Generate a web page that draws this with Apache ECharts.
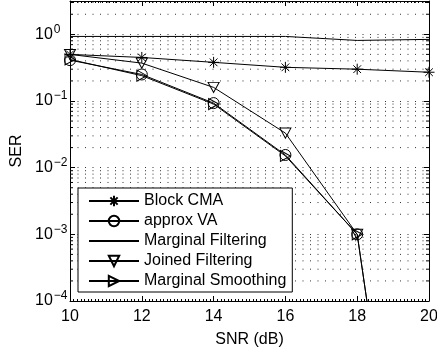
<!DOCTYPE html>
<html>
<head>
<meta charset="utf-8">
<script src="https://cdn.jsdelivr.net/npm/echarts@6/dist/echarts.min.js"></script>
<style>
  html, body { margin: 0; padding: 0; background: #fff; }
  #chart { width: 437px; height: 349px; }
</style>
</head>
<body>
<div id="chart"></div>
<script>
// SNR points (dB)
const snr = [10, 12, 14, 16, 18, 20];

// SER values
const blockCMA = [0.50, 0.45, 0.38, 0.32, 0.30, 0.27];
const approxVA = [0.41, 0.25, 0.093, 0.0155, 0.001, 4e-11];
const marginalFiltering = [0.93, 0.93, 0.93, 0.93, 0.81, 0.84];
const joinedFiltering = [0.50, 0.37, 0.16, 0.033, 0.001, null];
const marginalSmoothing = [0.42, 0.24, 0.09, 0.015, 0.001, 4e-11];

const names = ["Block CMA", "approx VA", "Marginal Filtering", "Joined Filtering", "Marginal Smoothing"];

// minor log gridlines (2..9 per decade)
const minorGrid = [];
for (let e = -4; e <= 0; e++) {
  for (let k = 2; k <= 9; k++) minorGrid.push(k * Math.pow(10, e));
}

const xMin = 10, xMax = 20;
const font = "Liberation Sans, Arial, Helvetica, sans-serif";

const starPath = "path://M5 0 L5 10 M0 5 L10 5 M1.5 1.5 L8.5 8.5 M1.5 8.5 L8.5 1.5";
const downTri = "path://M0 0 L10 0 L5 9 Z";
const rightTri = "path://M0 0 L9 5 L0 10 Z";

function pair(ys) {
  return snr.map((x, i) => [x, ys[i]]);
}

function lineSeries(name, ys, symbol, size) {
  return {
    name: name,
    type: "line",
    data: pair(ys),
    symbol: symbol,
    symbolSize: size,
    showSymbol: symbol !== "none",
    connectNulls: false,
    z: 5,
    lineStyle: { color: "#000", width: 1 },
    itemStyle: { color: "none", borderColor: "#000", borderWidth: 1 },
    emphasis: { disabled: true },
  };
}

const myChart = echarts.init(document.getElementById("chart"), null, { renderer: "canvas" });

// legend entries; the plain line gets no marker
const legendData = names.map((n) =>
  n === "Marginal Filtering"
    ? { name: n, itemStyle: { color: "none", borderColor: "rgba(0,0,0,0)", borderWidth: 0 } }
    : { name: n }
);

const option = {
  animation: false,
  backgroundColor: "#fff",
  textStyle: { fontFamily: font, color: "#000" },
  grid: { left: 70, right: 8, top: 1, bottom: 48, containLabel: false, outerBoundsMode: "none" },
  legend: {
    data: legendData,
    orient: "vertical",
    left: 78,
    top: 188,
    itemWidth: 50,
    itemHeight: 13,
    itemGap: 2,
    padding: [4, 6, 2, 10],
    borderColor: "#000",
    borderWidth: 1,
    borderRadius: 0,
    backgroundColor: "#fff",
    textStyle: { fontFamily: font, fontSize: 16, lineHeight: 18, color: "#000" },
  },
  xAxis: [
    {
      type: "value",
      min: xMin,
      max: xMax,
      interval: 2,
      name: "SNR (dB)",
      nameLocation: "middle",
      nameGap: 31,
      nameTextStyle: { fontSize: 16, color: "#000", fontFamily: font },
      axisLine: { lineStyle: { color: "#000", width: 1 } },
      axisTick: { inside: true, length: 5, lineStyle: { color: "#000" } },
      minorTick: { show: true, splitNumber: 20, length: 2, lineStyle: { color: "#000" } },
      axisLabel: { fontSize: 16, color: "#000", margin: 8, fontFamily: font },
      splitLine: { show: false },
    },
    {
      type: "value",
      position: "top",
      min: xMin,
      max: xMax,
      interval: 2,
      axisLine: { lineStyle: { color: "#000", width: 1 } },
      axisTick: { inside: true, length: 5, lineStyle: { color: "#000" } },
      minorTick: { show: true, splitNumber: 20, length: 2, lineStyle: { color: "#000" } },
      axisLabel: { show: false },
      splitLine: { show: false },
    },
  ],
  yAxis: [
    {
      type: "log",
      logBase: 10,
      min: 1e-4,
      max: 3.1623,
      name: "SER",
      nameLocation: "middle",
      nameGap: 43,
      nameTextStyle: { fontSize: 16, color: "#000", fontFamily: font },
      axisLine: { lineStyle: { color: "#000", width: 1 } },
      axisTick: { inside: true, length: 5, lineStyle: { color: "#000" } },
      axisLabel: {
        margin: 35,
        align: "left",
        showMaxLabel: false,
        formatter: function (v) {
          const e = Math.round(Math.log10(v));
          if (Math.abs(Math.log10(v) - e) > 0.01) return "";
          return "{b|10}{s|" + (e < 0 ? "\u2212" + -e : e) + "}";
        },
        rich: {
          b: { fontSize: 16, color: "#000", fontFamily: font },
          s: { fontSize: 12, color: "#000", fontFamily: font, padding: [0, 0, 10, 1] },
        },
      },
      splitLine: { show: true, lineStyle: { color: "#333", type: [1, 6.5], width: 1 } },
    },
    {
      type: "log",
      logBase: 10,
      min: 1e-4,
      max: 3.1623,
      position: "right",
      axisLine: { lineStyle: { color: "#000", width: 1 } },
      axisTick: { inside: true, length: 5, lineStyle: { color: "#000" } },
      axisLabel: { show: false },
      splitLine: { show: false },
    },
  ],
  series: [
    {
      type: "custom",
      name: "grid",
      silent: true,
      z: 1,
      data: minorGrid.map((v) => [xMin, v]),
      renderItem: function (params, api) {
        const v = api.value(1);
        const p0 = api.coord([xMin, v]);
        const p1 = api.coord([xMax, v]);
        return {
          type: "group",
          children: [
            {
              type: "line",
              shape: { x1: p0[0], y1: p0[1], x2: p1[0], y2: p1[1] },
              style: { stroke: "#333", lineWidth: 1, lineDash: [1, 6.5] },
            },
            {
              type: "line",
              shape: { x1: p0[0], y1: p0[1], x2: p0[0] + 3, y2: p0[1] },
              style: { stroke: "#000", lineWidth: 1 },
            },
            {
              type: "line",
              shape: { x1: p1[0] - 3, y1: p1[1], x2: p1[0], y2: p1[1] },
              style: { stroke: "#000", lineWidth: 1 },
            },
          ],
        };
      },
    },
    lineSeries("Block CMA", blockCMA, starPath, [11, 11]),
    lineSeries("approx VA", approxVA, "circle", 11),
    lineSeries("Marginal Filtering", marginalFiltering, "none", 0),
    lineSeries("Joined Filtering", joinedFiltering, downTri, [11, 10]),
    lineSeries("Marginal Smoothing", marginalSmoothing, rightTri, [10, 11]),
  ],
};

myChart.setOption(option);
</script>
</body>
</html>
